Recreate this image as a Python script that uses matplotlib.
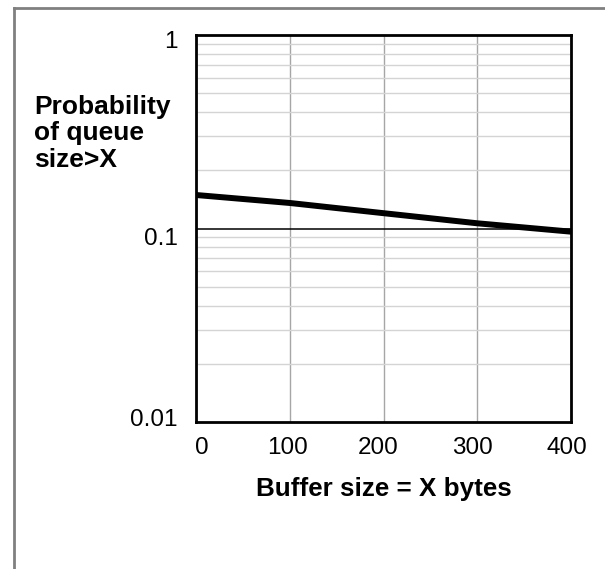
import numpy as np
import matplotlib.pyplot as plt
from matplotlib.lines import Line2D
from matplotlib.transforms import ScaledTranslation

plt.rcParams['font.family'] = ['Liberation Sans', 'DejaVu Sans']

# data
buffer_x = [0, 100, 200, 300, 400]
prob_over = [0.149, 0.1355, 0.120, 0.1064, 0.0963]

fig = plt.figure(figsize=(6.05, 5.69), dpi=100)
ax = fig.add_axes([0.324, 0.2583, 0.62, 0.6802])

ax.set_yscale('log')
ax.set_xlim(0, 400)
ax.set_ylim(0.01, 1)

# grid
ax.set_xticks([0, 100, 200, 300, 400])
ax.grid(True, axis='x', which='major', color='#a6a6a6', linewidth=1)
ax.grid(True, axis='y', which='minor', color='#d4d4d4', linewidth=1)
ax.axhline(0.1, color='black', linewidth=1.1, zorder=2)

ax.plot(buffer_x, prob_over, color='black', linewidth=4.3, solid_capstyle='butt', zorder=3)

ax.set_yticks([0.01, 0.1, 1])
ax.set_yticklabels(['0.01', '0.1', '1'])
ax.tick_params(axis='both', which='both', length=0, labelsize=17.5)
ax.tick_params(axis='y', pad=13)
ax.tick_params(axis='x', pad=11)
for s in ax.spines.values():
    s.set_linewidth(2)
    s.set_color('black')

# small per-label shifts (pixels) to follow the original placement
fig.canvas.draw()
y_shift = [5, -8, -5]
for lab, dy in zip(ax.get_yticklabels(), y_shift):
    lab.set_transform(lab.get_transform() + ScaledTranslation(0, dy / 100, fig.dpi_scale_trans))
x_shift = [5.5, -2, -5, -5, -4.5]
for lab, dx in zip(ax.get_xticklabels(), x_shift):
    lab.set_transform(lab.get_transform() + ScaledTranslation(dx / 100, 0, fig.dpi_scale_trans))

ax.set_xlabel('Buffer size = X bytes', fontsize=18.7, fontweight='bold', labelpad=13)
fig.text(34 / 605, 1 - 95 / 569, 'Probability\nof queue\nsize>X', fontsize=19,
         fontweight='bold', ha='left', va='top', linespacing=1.12)

# outer frame (left and top only)
fig.add_artist(Line2D([14 / 605, 14 / 605], [0, 1 - 8 / 569], transform=fig.transFigure,
                      color='#808080', linewidth=2))
fig.add_artist(Line2D([14 / 605, 1], [1 - 8 / 569, 1 - 8 / 569], transform=fig.transFigure,
                      color='#808080', linewidth=2))

fig.savefig('out.png', dpi=100)
